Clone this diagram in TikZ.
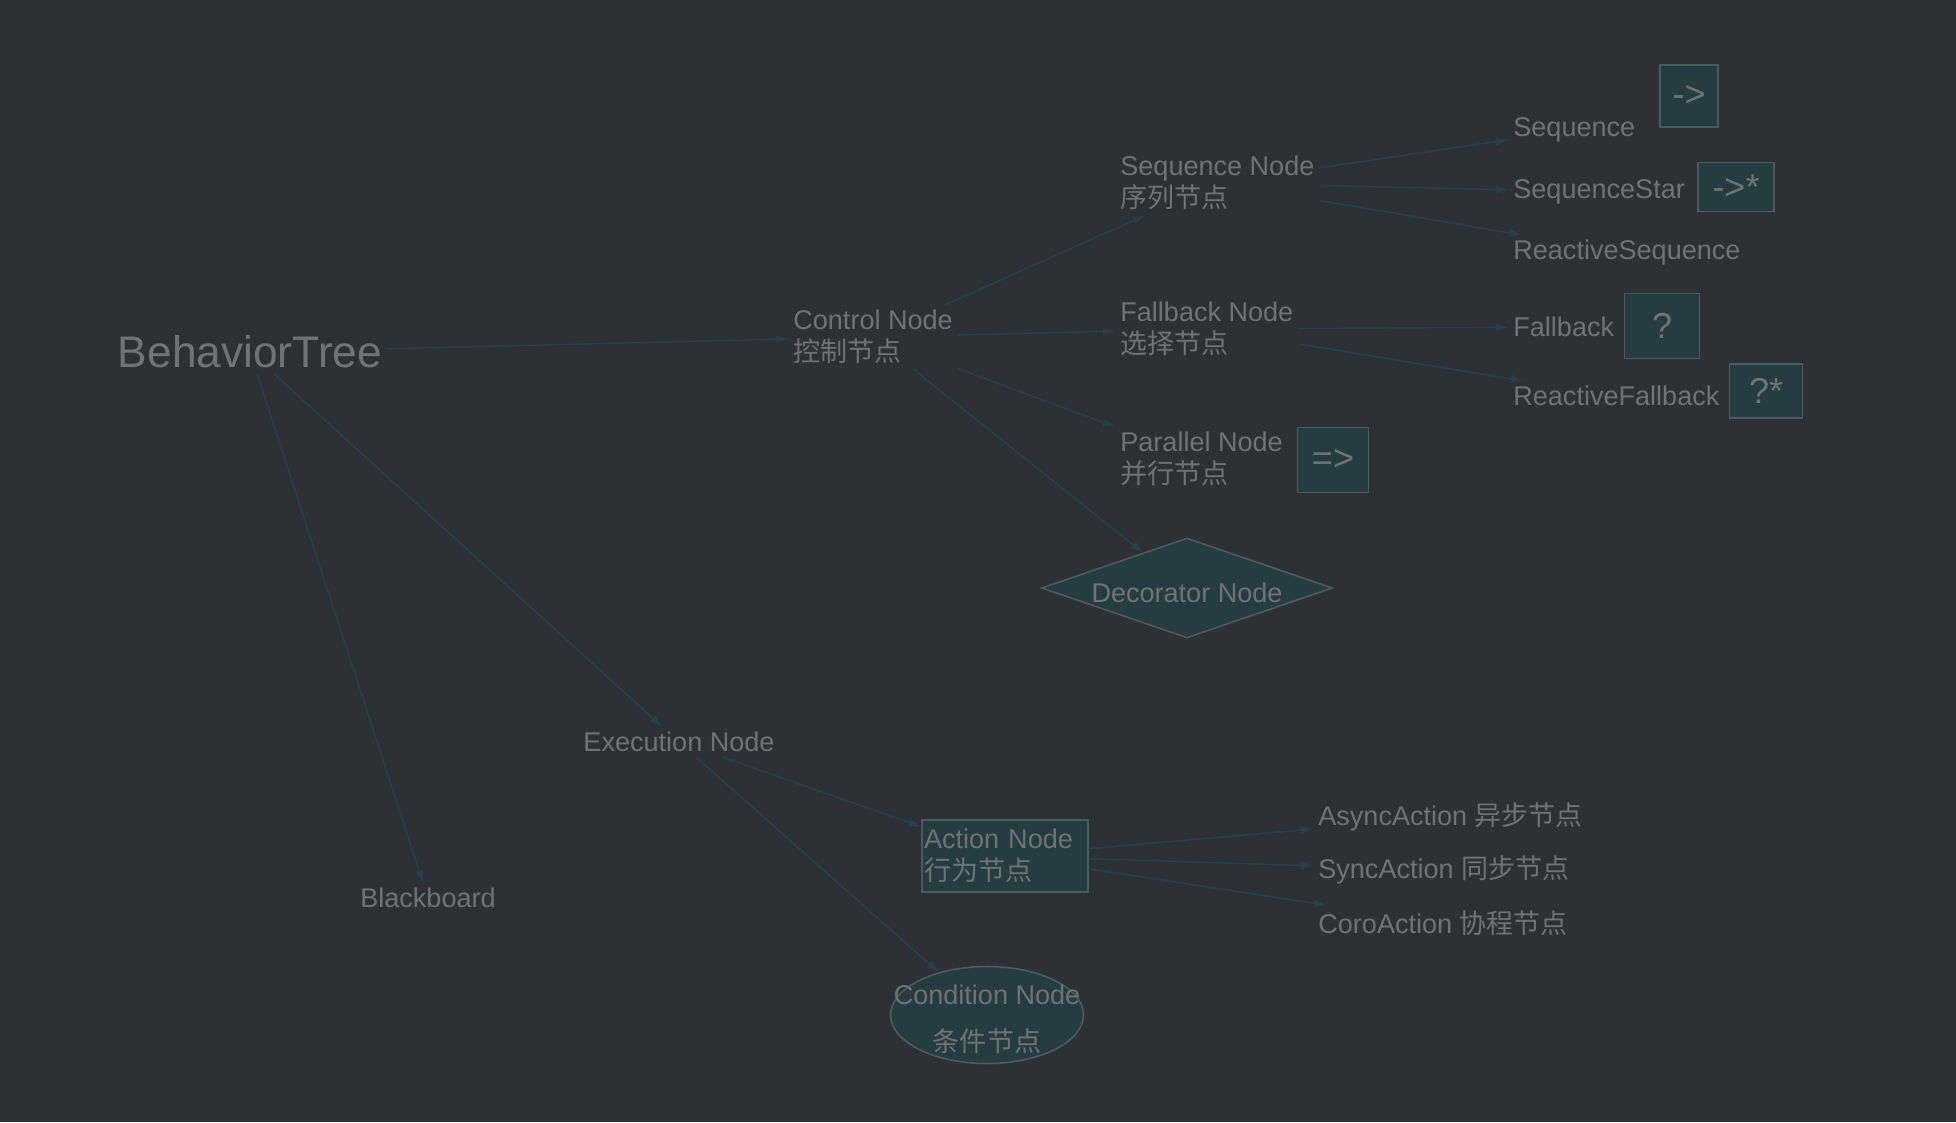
\documentclass[tikz,border=0pt]{standalone}
\usepackage{fontspec}
\setmainfont{Liberation Sans}
\newfontfamily\cjkfont{Noto Sans CJK SC}
\newcommand{\zh}[1]{{\cjkfont #1}}
\usepackage{xcolor}
\usepackage{tikz}
\usetikzlibrary{arrows.meta, shapes.geometric}

\definecolor{bgcol}{HTML}{2E3133}
\definecolor{txtcol}{HTML}{707375}
\definecolor{edgecol}{HTML}{25414C}
\definecolor{fillcol}{HTML}{243E40}
\definecolor{bordercol}{HTML}{4E5A5B}

\begin{document}
\begin{tikzpicture}[
    x=0.02cm, y=-0.02cm,
    font=\fontsize{15.4}{18.2}\selectfont,
    >={Latex[length=7pt,width=5pt]},
    plain/.style={
      text=txtcol,
      inner sep=0.1cm,
      align=left
    },
    leftnode/.style={
      plain,
      anchor=west
    },
    symbox/.style={
      draw=bordercol,
      fill=fillcol,
      line width=0.9pt,
      text=txtcol,
      inner sep=0pt,
      font=\fontsize{20.5}{24}\selectfont
    },
    actbox/.style={
      draw=bordercol,
      fill=fillcol,
      line width=0.9pt,
      text=txtcol,
      align=left,
      text width=3.24cm,
      inner xsep=0.04cm,
      inner ysep=0pt,
      minimum height=1.44cm
    },
    decobox/.style={
      draw=bordercol,
      fill=fillcol,
      line width=0.9pt,
      diamond,
      inner sep=0pt,
      minimum width=5.82cm,
      minimum height=2cm
    },
    condbox/.style={
      draw=bordercol,
      fill=fillcol,
      line width=0.9pt,
      ellipse,
      inner sep=0pt,
      minimum width=3.86cm,
      minimum height=1.94cm
    },
    link/.style={->, draw=edgecol, line width=0.85pt}
]

% background
\fill[bgcol] (0,0) rectangle (1956,1122);
\useasboundingbox (0,0) rectangle (1956,1122);

% 1) Root
\node[plain, font=\fontsize{25.2}{30}\selectfont] (bt) at (250,352) {BehaviorTree};

% 2) Control branch
\node[leftnode] (ctrl) at (788,337) {Control Node\\\zh{控制节点}};
\node[leftnode] (seqnode) at (1115,183) {Sequence Node\\\zh{序列节点}};
\node[leftnode] (fbnode) at (1115,329) {Fallback Node\\\zh{选择节点}};
\node[leftnode] (parnode) at (1115,459) {Parallel Node\\\zh{并行节点}};
\node[decobox, label={[plain, yshift=-0.1cm]center:Decorator Node}] (deco) at (1187,588) {};

% 3) Sequence / Fallback leaves
\node[leftnode] (seq) at (1508,130) {Sequence};
\node[leftnode] (seqstar) at (1508,192) {SequenceStar};
\node[leftnode] (rseq) at (1508,253) {ReactiveSequence};
\node[leftnode] (fb) at (1508,327) {Fallback};
\node[leftnode] (rfb) at (1508,396) {ReactiveFallback};

% symbol boxes
\node[symbox, minimum width=1.16cm, minimum height=1.24cm] (seqsym) at (1689,96) {->};
\node[symbox, minimum width=1.52cm, minimum height=0.98cm] (seqstarsym) at (1736,187) {->*};
\node[symbox, minimum width=1.5cm, minimum height=1.3cm] (fbsym) at (1662,326) {?};
\node[symbox, minimum width=1.46cm, minimum height=1.08cm] (rfbsym) at (1766,391) {?*};
\node[symbox, minimum width=1.42cm, minimum height=1.3cm] (parsym) at (1333,460) {=>};

% 4) Execution branch
\node[plain] (exec) at (679,742) {Execution Node};
\node[plain] (board) at (428,898) {Blackboard};
\node[actbox] (act) at (1005,856) {Action Node\\\zh{行为节点}};
\node[condbox, label={[plain, align=center, font=\fontsize{15.4}{26.7}\selectfont, yshift=-0.08cm]center:Condition Node\\\zh{条件节点}}] (cond) at (987,1015) {};

% 5) Action leaves
\node[leftnode] (async) at (1313,817) {AsyncAction \zh{异步节点}};
\node[leftnode] (sync) at (1313,870) {SyncAction \zh{同步节点}};
\node[leftnode] (coro) at (1313,923) {CoroAction \zh{协程节点}};

% ARROWS
% root
\draw[link] (bt) -- (ctrl);
\draw[link] (bt) -- (exec);
\draw[link] (bt) -- (board);

% control node
\draw[link] (ctrl) -- (seqnode);
\draw[link] (ctrl) -- (fbnode);
\draw[link] (ctrl) -- (parnode);
\draw[link] (ctrl) -- (deco);

% sequence / fallback
\draw[link] (seqnode) -- (seq);
\draw[link] (seqnode) -- (seqstar);
\draw[link] (seqnode) -- (rseq);
\draw[link] (fbnode) -- (fb);
\draw[link] (fbnode) -- (rfb);

% execution
\draw[link] (exec) -- (act);
\draw[link] (exec) -- (cond);
\draw[link] (act) -- (async);
\draw[link] (act) -- (sync);
\draw[link] (act) -- (coro);

\end{tikzpicture}
\end{document}
